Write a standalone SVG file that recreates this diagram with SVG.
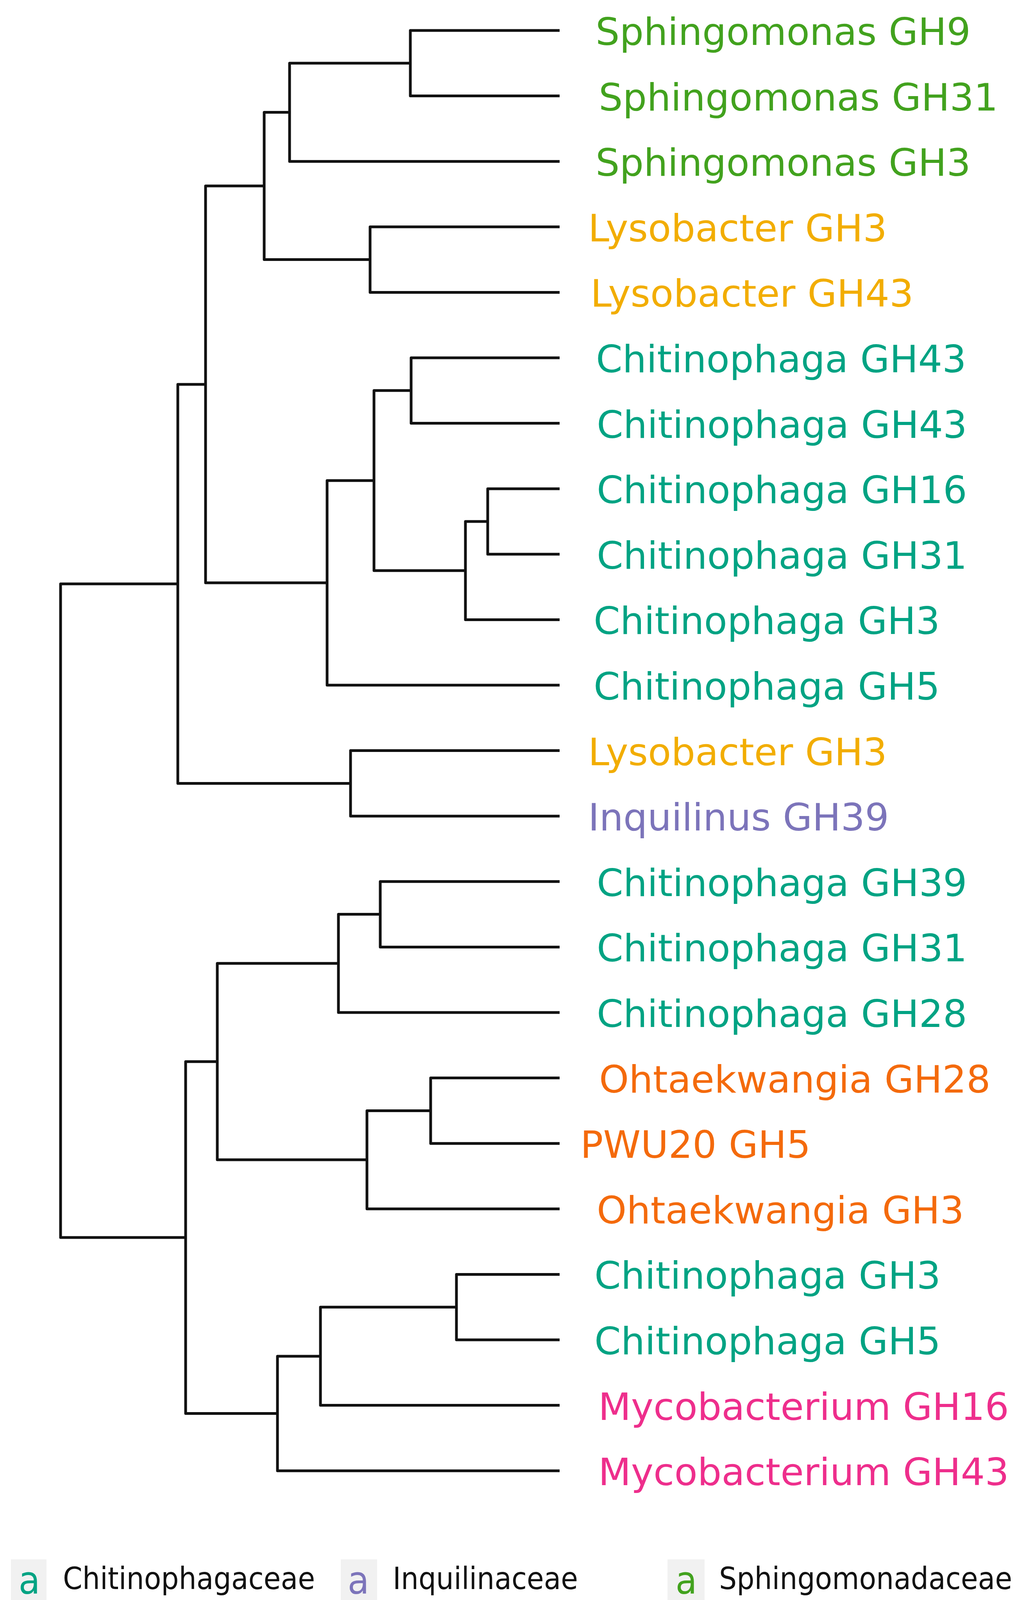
<svg xmlns="http://www.w3.org/2000/svg" width="2628" height="4240" viewBox="0 0 2628 4240">
<style>
.br{fill:none;stroke:#111;stroke-width:7;stroke-linejoin:round;stroke-linecap:butt}
.lab{font-family:"DejaVu Sans","Liberation Sans",sans-serif;font-size:97px}
.leg{font-family:"DejaVu Sans","Liberation Sans",sans-serif;font-size:78px;fill:#111}
.la{font-family:"DejaVu Sans","Liberation Sans",sans-serif;font-size:98px;text-anchor:middle}
.box{fill:#f1f1f1}
.chi{fill:#00a383}.cyc{fill:#f46a0c}.inq{fill:#7c74ba}.myc{fill:#ee2e8c}.sph{fill:#42a21e}.xan{fill:#f2ad00}
</style>
<rect width="2628" height="4240" fill="#ffffff"/>
<g id="connectors">
<path class="br" d="M1432 78 H1050 V245.6 H1432"/>
<path class="br" d="M1050 161.8 H741 V413.2 H1432"/>
<path class="br" d="M1432 580.8 H947 V748.4 H1432"/>
<path class="br" d="M741 287.5 H676 V664.6 H947"/>
<path class="br" d="M1432 916 H1052 V1083.6 H1432"/>
<path class="br" d="M1432 1251.2 H1248 V1418.8 H1432"/>
<path class="br" d="M1248 1335 H1191 V1586.4 H1432"/>
<path class="br" d="M1052 999.8 H957 V1460.7 H1191"/>
<path class="br" d="M957 1230.25 H837 V1754 H1432"/>
<path class="br" d="M676 476.05 H526 V1492.1 H837"/>
<path class="br" d="M1432 1921.6 H897 V2089.2 H1432"/>
<path class="br" d="M526 984.1 H455 V2005.4 H897"/>
<path class="br" d="M1432 2256.8 H973 V2424.4 H1432"/>
<path class="br" d="M973 2340.6 H866 V2592 H1432"/>
<path class="br" d="M1432 2759.6 H1102 V2927.2 H1432"/>
<path class="br" d="M1102 2843.4 H939 V3094.8 H1432"/>
<path class="br" d="M866 2466.3 H556 V2969.1 H939"/>
<path class="br" d="M1432 3262.4 H1168 V3430 H1432"/>
<path class="br" d="M1168 3346.2 H820 V3597.6 H1432"/>
<path class="br" d="M820 3471.9 H710 V3765.2 H1432"/>
<path class="br" d="M556 2717.7 H475 V3618.55 H710"/>
<path class="br" d="M455 1494.8 H155 V3168.1 H475"/>
</g>
<g id="leaf-sph-gh9"><text class="lab sph" x="1524" y="115">Sphingomonas GH9</text></g>
<g id="leaf-sph-gh31"><text class="lab sph" x="1532" y="282.6">Sphingomonas GH31</text></g>
<g id="leaf-sph-gh3"><text class="lab sph" x="1524" y="450.2">Sphingomonas GH3</text></g>
<g id="leaf-lys-gh3a"><text class="lab xan" x="1505" y="617.8">Lysobacter GH3</text></g>
<g id="leaf-lys-gh43"><text class="lab xan" x="1511" y="785.4">Lysobacter GH43</text></g>
<g id="leaf-chi-gh43a"><text class="lab chi" x="1525" y="953">Chitinophaga GH43</text></g>
<g id="leaf-chi-gh43b"><text class="lab chi" x="1527" y="1120.6">Chitinophaga GH43</text></g>
<g id="leaf-chi-gh16"><text class="lab chi" x="1527" y="1288.2">Chitinophaga GH16</text></g>
<g id="leaf-chi-gh31a"><text class="lab chi" x="1527" y="1455.8">Chitinophaga GH31</text></g>
<g id="leaf-chi-gh3a"><text class="lab chi" x="1519" y="1623.4">Chitinophaga GH3</text></g>
<g id="leaf-chi-gh5a"><text class="lab chi" x="1519" y="1791">Chitinophaga GH5</text></g>
<g id="leaf-lys-gh3b"><text class="lab xan" x="1505" y="1958.6">Lysobacter GH3</text></g>
<g id="leaf-inq-gh39"><text class="lab inq" x="1505" y="2126.2">Inquilinus GH39</text></g>
<g id="leaf-chi-gh39"><text class="lab chi" x="1527" y="2293.8">Chitinophaga GH39</text></g>
<g id="leaf-chi-gh31b"><text class="lab chi" x="1527" y="2461.4">Chitinophaga GH31</text></g>
<g id="leaf-chi-gh28"><text class="lab chi" x="1527" y="2629">Chitinophaga GH28</text></g>
<g id="leaf-oht-gh28"><text class="lab cyc" x="1533" y="2796.6">Ohtaekwangia GH28</text></g>
<g id="leaf-pwu-gh5"><text class="lab cyc" x="1485" y="2964.2">PWU20 GH5</text></g>
<g id="leaf-oht-gh3"><text class="lab cyc" x="1527" y="3131.8">Ohtaekwangia GH3</text></g>
<g id="leaf-chi-gh3b"><text class="lab chi" x="1521" y="3299.4">Chitinophaga GH3</text></g>
<g id="leaf-chi-gh5b"><text class="lab chi" x="1521" y="3467">Chitinophaga GH5</text></g>
<g id="leaf-myc-gh16"><text class="lab myc" x="1531" y="3634.6">Mycobacterium GH16</text></g>
<g id="leaf-myc-gh43"><text class="lab myc" x="1531" y="3802.2">Mycobacterium GH43</text></g>
<g id="legend">
<rect class="box" x="28" y="3992" width="91" height="188"/>
<rect class="box" x="872" y="3992" width="93" height="188"/>
<rect class="box" x="1708" y="3992" width="95" height="188"/>
<text class="la chi" transform="translate(75,4080) scale(0.92,1)">a</text>
<text class="la cyc" transform="translate(75,4173) scale(0.92,1)">a</text>
<text class="la inq" transform="translate(917,4080) scale(0.92,1)">a</text>
<text class="la myc" transform="translate(917,4173) scale(0.92,1)">a</text>
<text class="la sph" transform="translate(1756,4080) scale(0.92,1)">a</text>
<text class="la xan" transform="translate(1756,4173) scale(0.92,1)">a</text>
<text class="leg" x="161" y="4068" textLength="645" lengthAdjust="spacingAndGlyphs">Chitinophagaceae</text>
<text class="leg" x="161" y="4162" textLength="664" lengthAdjust="spacingAndGlyphs">Cyclobacteriaceae</text>
<text class="leg" x="1005" y="4068" textLength="474" lengthAdjust="spacingAndGlyphs">Inquilinaceae</text>
<text class="leg" x="1005" y="4162" textLength="662" lengthAdjust="spacingAndGlyphs">Mycobacteriaceae</text>
<text class="leg" x="1840" y="4068" textLength="750" lengthAdjust="spacingAndGlyphs">Sphingomonadaceae</text>
<text class="leg" x="1842" y="4162" textLength="724" lengthAdjust="spacingAndGlyphs">Xanthomonadaceae</text>
</g>
</svg>
